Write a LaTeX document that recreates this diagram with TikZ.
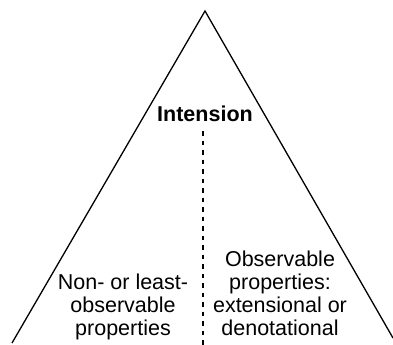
\documentclass[tikz,border=0pt]{standalone}
\usepackage{fontspec}
\setmainfont{Liberation Sans}
\begin{document}
\begin{tikzpicture}[x=1bp,y=-1bp,
  side/.style={line width=1.3bp,black},
  divider/.style={line width=1.4bp,black,dash pattern=on 4.5bp off 5bp},
  lbl/.style={align=center,inner sep=0pt,font=\fontsize{21.5bp}{22.7bp}\selectfont,anchor=base},
  ttl/.style={inner sep=0pt,font=\fontsize{21.5bp}{22.7bp}\selectfont\bfseries,anchor=base}]
\useasboundingbox (0,0) rectangle (393,345);
\coordinate (apex) at (205,11);
\coordinate (bl) at (12,343);
\coordinate (br) at (393,338);
\coordinate (dtop) at (203,131);
\coordinate (dbot) at (203,345);
\draw[side] (bl) -- (apex) -- (br);
\draw[divider] (dtop) -- (dbot);
\node[ttl] (title) at (205,121) {Intension};
\node[lbl] (left) at (123,335) {Non- or least-\\observable\\properties};
\node[lbl] (right) at (280,335) {Observable\\properties:\\extensional or\\denotational};
\end{tikzpicture}
\end{document}
